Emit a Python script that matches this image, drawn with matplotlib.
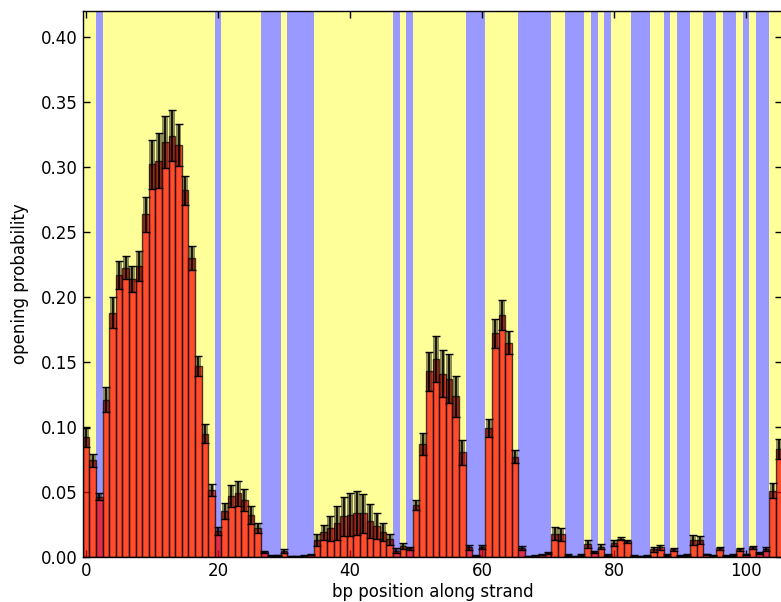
import numpy as np
import matplotlib
matplotlib.use("Agg")
import matplotlib.pyplot as plt

# base-pair class along the strand: W = weak (A/T), S = strong (G/C)
pair_class = ("WWSWWWWWWW" "WWWWWWWWWW" "SWWWWWWSSS" "WSSSSWWWWW" "WWWWWWWSWS"
              "WWWWWWWWSS" "SWWWWWSSSS" "SWWSSSWSWS" "WWWSSSWWSW" "SSWWSSWSSW"
              "SWSSWW")

opening_prob = [
    0.092, 0.0745, 0.0465, 0.121, 0.188, 0.217, 0.2225, 0.214, 0.224, 0.2635,
    0.302, 0.305, 0.319, 0.324, 0.317, 0.282, 0.230, 0.147, 0.095, 0.0515,
    0.020, 0.0355, 0.047, 0.049, 0.044, 0.0325, 0.0225, 0.004, 0.001, 0.0012,
    0.0045, 0.0005, 0.0005, 0.001, 0.0017, 0.013, 0.019, 0.022, 0.026, 0.0315,
    0.0325, 0.034, 0.0335, 0.028, 0.024, 0.019, 0.0135, 0.005, 0.0085, 0.0067,
    0.040, 0.087, 0.143, 0.1525, 0.141, 0.137, 0.1235, 0.0805, 0.0075, 0.001,
    0.0075, 0.099, 0.172, 0.1865, 0.165, 0.077, 0.0067, 0.0005, 0.0008, 0.0017,
    0.003, 0.018, 0.0175, 0.0015, 0.0005, 0.0015, 0.010, 0.004, 0.008, 0.0015,
    0.0105, 0.014, 0.012, 0.001, 0.0005, 0.001, 0.006, 0.0075, 0.0015, 0.006,
    0.001, 0.0015, 0.013, 0.013, 0.002, 0.001, 0.0067, 0.001, 0.0015, 0.006,
    0.002, 0.0075, 0.003, 0.0065, 0.051, 0.083,
]

opening_err = [
    0.0075, 0.005, 0.0025, 0.0095, 0.012, 0.011, 0.009, 0.010, 0.0115, 0.0135,
    0.019, 0.021, 0.020, 0.0195, 0.016, 0.011, 0.009, 0.008, 0.007, 0.0045,
    0.003, 0.006, 0.0085, 0.0095, 0.0085, 0.007, 0.004, 0.001, 0.0005, 0.0005,
    0.0015, 0.0005, 0.0005, 0.0005, 0.0005, 0.0045, 0.006, 0.0095, 0.013, 0.015,
    0.0165, 0.0167, 0.015, 0.013, 0.010, 0.007, 0.0045, 0.002, 0.002, 0.001,
    0.004, 0.0085, 0.015, 0.0177, 0.018, 0.0188, 0.0155, 0.0095, 0.002, 0.0005,
    0.0015, 0.007, 0.011, 0.0115, 0.009, 0.005, 0.0015, 0.0005, 0.0005, 0.0005,
    0.001, 0.005, 0.005, 0.0005, 0.0005, 0.0005, 0.003, 0.001, 0.002, 0.0005,
    0.0023, 0.0012, 0.0012, 0.0005, 0.0005, 0.0005, 0.002, 0.0018, 0.0005, 0.001,
    0.0005, 0.0005, 0.0036, 0.003, 0.0005, 0.0005, 0.0012, 0.0005, 0.0005, 0.0012,
    0.0005, 0.0012, 0.0008, 0.0015, 0.0057, 0.0077,
]

positions = np.arange(len(opening_prob))
prob = np.array(opening_prob)
err = np.array(opening_err)

band_colors = {"W": "yellow", "S": "blue"}

fig = plt.figure(figsize=(7.81, 6.02), dpi=100)
ax = fig.add_axes([82.8 / 781, 45 / 602, 699.6 / 781, 546 / 602])

# background bands, one per base pair
for pos, cls in zip(positions, pair_class):
    ax.axvspan(pos - 0.5, pos + 0.5, color=band_colors[cls], alpha=0.4,
               lw=0, zorder=0)

# opening probabilities
ax.bar(positions, prob, width=1.0, align="center", color="red", alpha=0.7,
       edgecolor="black", linewidth=1.0, zorder=2)

# shaded error band and error bars
ax.bar(positions, 2 * err, bottom=prob - err, width=0.9, align="center",
       color="black", alpha=0.45, linewidth=0, zorder=3)
ax.errorbar(positions, prob, yerr=err, fmt="none", ecolor="black",
            elinewidth=1.2, capsize=3, capthick=1.0, zorder=4)

ax.set_xlim(-0.5, 105.5)
ax.set_ylim(0, 0.42)
ax.set_xticks([0, 20, 40, 60, 80, 100])
ax.set_yticks(np.arange(0, 0.401, 0.05))
ax.yaxis.set_major_formatter(matplotlib.ticker.FormatStrFormatter("%.2f"))
ax.tick_params(direction="in", top=True, right=True, length=5, width=1,
               labelsize=12)
ax.set_xlabel("bp position along strand", fontsize=12, labelpad=2)
ax.set_ylabel("opening probability", fontsize=12, labelpad=9)
for sp in ax.spines.values():
    sp.set_linewidth(1.0)

fig.savefig("out.png", dpi=100)
